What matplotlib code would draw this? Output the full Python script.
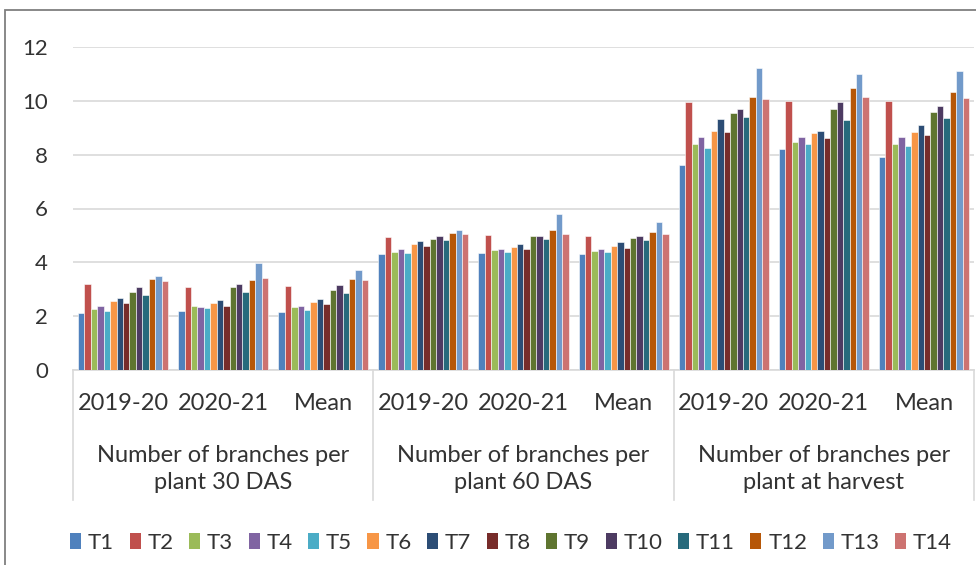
import numpy as np
import matplotlib
matplotlib.use("Agg")
import matplotlib.pyplot as plt
from matplotlib.patches import Rectangle
import matplotlib.transforms as mtransforms

plt.rcParams['font.family'] = ['Lato', 'DejaVu Sans']

# --- data ---
treatments = ['T1', 'T2', 'T3', 'T4', 'T5', 'T6', 'T7', 'T8', 'T9', 'T10', 'T11', 'T12', 'T13', 'T14']
seasons = ['2019-20', '2020-21', 'Mean']
groups = ['Number of branches per\nplant 30 DAS',
          'Number of branches per\nplant 60 DAS',
          'Number of branches per\nplant at harvest']

# one list per treatment, 9 values: (30 DAS: 19-20, 20-21, mean), (60 DAS ...), (harvest ...)
T1 = [2.13, 2.19, 2.15, 4.30, 4.35, 4.30, 7.62, 8.20, 7.91]
T2 = [3.18, 3.08, 3.12, 4.95, 5.03, 4.99, 9.97, 9.99, 9.98]
T3 = [2.28, 2.37, 2.33, 4.37, 4.45, 4.41, 8.38, 8.46, 8.41]
T4 = [2.38, 2.34, 2.37, 4.49, 4.48, 4.49, 8.67, 8.64, 8.66]
T5 = [2.20, 2.29, 2.23, 4.35, 4.38, 4.37, 8.24, 8.40, 8.32]
T6 = [2.57, 2.49, 2.51, 4.67, 4.58, 4.62, 8.88, 8.82, 8.84]
T7 = [2.69, 2.59, 2.65, 4.79, 4.69, 4.74, 9.34, 8.89, 9.10]
T8 = [2.50, 2.37, 2.44, 4.59, 4.48, 4.53, 8.83, 8.63, 8.74]
T9 = [2.89, 3.10, 2.98, 4.88, 4.97, 4.92, 9.55, 9.70, 9.60]
T10 = [3.10, 3.18, 3.15, 4.97, 4.97, 4.97, 9.68, 9.94, 9.81]
T11 = [2.79, 2.89, 2.85, 4.82, 4.85, 4.83, 9.40, 9.29, 9.35]
T12 = [3.39, 3.33, 3.37, 5.10, 5.19, 5.13, 10.14, 10.48, 10.32]
T13 = [3.48, 3.99, 3.73, 5.19, 5.78, 5.49, 11.21, 10.98, 11.12]
T14 = [3.31, 3.40, 3.34, 5.05, 5.05, 5.05, 10.06, 10.14, 10.09]
series = [T1, T2, T3, T4, T5, T6, T7, T8, T9, T10, T11, T12, T13, T14]

colors = ['#4F81BD', '#C0504D', '#9BBB59', '#8064A2', '#4BACC6', '#F79646',
          '#2C4D75', '#772C2A', '#5F7530', '#4D3B62', '#276A7C', '#B65708',
          '#729ACA', '#CD7371']

text_col = '#333333'
grid_col = '#D9D9D9'
fs = 17

W, H = 976, 565
fig = plt.figure(figsize=(W / 100, H / 100), dpi=100)

# outer chart frame (cut off at right/bottom like the reference)
fig.patches.append(Rectangle((5 / W, -0.02), 1.05, 1 - 10 / H + 0.02,
                             transform=fig.transFigure, fill=False,
                             edgecolor='#7F7F7F', lw=1.3))

ax = fig.add_axes([73 / W, 1 - 370 / H, (974 - 73) / W, (370 - 47) / H])

n_cat = len(groups) * len(seasons)
x = np.arange(n_cat) + 0.5
cluster = 0.9
bw = cluster / len(series)
for i, (name, vals) in enumerate(zip(treatments, series)):
    offs = -cluster / 2 + bw * (i + 0.5)
    ax.bar(x + offs, vals, width=bw, color=colors[i], edgecolor='white',
           linewidth=0.4, label=name, zorder=3)

ax.set_xlim(0, n_cat)
ax.set_ylim(0, 12)
ax.set_yticks(range(0, 13, 2))
ax.yaxis.grid(True, color=grid_col, lw=1.2, zorder=0)
ax.tick_params(axis='y', length=0, pad=18, labelsize=16, labelcolor=text_col)
ax.set_xticks([])
for s in ['top', 'right', 'left']:
    ax.spines[s].set_visible(False)
ax.spines['bottom'].set_color(grid_col)
ax.spines['bottom'].set_linewidth(1.2)

# multi-level category axis
trans = mtransforms.blended_transform_factory(ax.transData, ax.transAxes)
px = 1.0 / (370 - 47)
for g in range(len(groups) + 1):
    ax.plot([g * 3, g * 3], [0, -130 * px], color=grid_col, lw=1.2,
            transform=trans, clip_on=False)
for k in range(n_cat):
    ax.text(x[k], -34 * px, seasons[k % 3], transform=trans, ha='center',
            va='center', fontsize=fs, color=text_col)
for g, lab in enumerate(groups):
    ax.text(g * 3 + 1.5, -99 * px, lab, transform=trans, ha='center',
            va='center', fontsize=fs, color=text_col, linespacing=1.35)

leg = fig.legend(loc='center', bbox_to_anchor=(511 / W, 1 - 543 / H), ncol=14,
                 frameon=False, fontsize=16, handlelength=0.5, handleheight=0.75,
                 handletextpad=0.3, columnspacing=0.7, labelcolor=text_col)
for h in leg.legend_handles:
    h.set_linewidth(0)

fig.savefig('out.png', dpi=100)
